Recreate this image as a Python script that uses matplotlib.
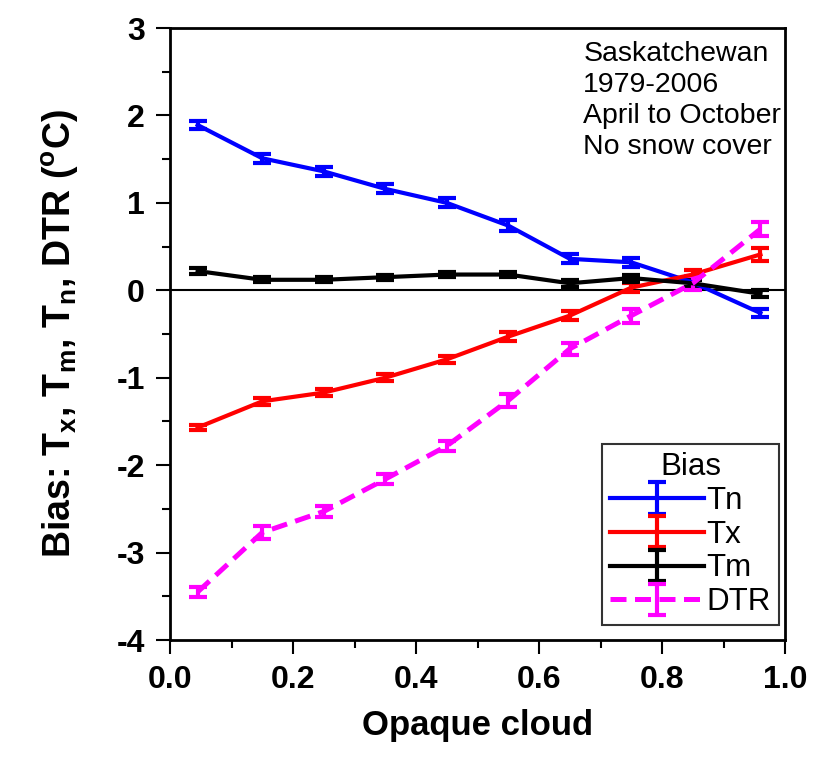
import matplotlib
matplotlib.use("Agg")
import matplotlib.pyplot as plt
from matplotlib.ticker import MultipleLocator

plt.rcParams['font.family'] = ['Liberation Sans', 'DejaVu Sans']
plt.rcParams['axes.unicode_minus'] = False
plt.rcParams['mathtext.fontset'] = 'custom'
plt.rcParams['mathtext.rm'] = 'Liberation Sans:bold'
plt.rcParams['mathtext.bf'] = 'Liberation Sans:bold'
plt.rcParams['mathtext.it'] = 'Liberation Sans:bold'

cloud = [0.045, 0.15, 0.25, 0.35, 0.45, 0.55, 0.65, 0.75, 0.85, 0.96]
tn = [1.89, 1.51, 1.36, 1.16, 1.00, 0.74, 0.36, 0.32, 0.09, -0.26]
tx = [-1.57, -1.27, -1.17, -1.00, -0.79, -0.53, -0.29, 0.03, 0.18, 0.41]
tm = [0.22, 0.12, 0.12, 0.15, 0.18, 0.18, 0.08, 0.14, 0.08, -0.04]
dtr = [-3.45, -2.77, -2.53, -2.16, -1.78, -1.26, -0.67, -0.29, 0.08, 0.70]
tn_err = [0.05, 0.05, 0.05, 0.05, 0.05, 0.06, 0.05, 0.05, 0.05, 0.05]
tx_err = [0.03, 0.04, 0.04, 0.04, 0.04, 0.05, 0.05, 0.05, 0.05, 0.07]
tm_err = [0.03, 0.03, 0.03, 0.03, 0.03, 0.03, 0.04, 0.04, 0.04, 0.04]
dtr_err = [0.06, 0.07, 0.06, 0.06, 0.06, 0.07, 0.07, 0.08, 0.08, 0.08]

fig = plt.figure(figsize=(8.13, 7.73), dpi=100)
ax = fig.add_axes([170/813, 1-640/773, 615/813, 612/773])

kw = dict(elinewidth=3, capsize=6.5, capthick=3)
ax.errorbar(cloud, tn, yerr=tn_err, color='#0000ff', label='Tn', lw=3, **kw)
ax.errorbar(cloud, tx, yerr=tx_err, color='#ff0000', label='Tx', lw=3, **kw)
ax.errorbar(cloud, tm, yerr=tm_err, color='black', label='Tm', lw=3, **kw)
eb = ax.errorbar(cloud, dtr, yerr=dtr_err, color='#ff00ff', label='DTR', ls='--', lw=3.6, **kw)
eb[-1][0].set_linestyle('-')
eb.lines[0].set_dashes([3.2, 1.7])

ax.axhline(0, color='black', lw=1.5, zorder=0)

ax.set_xlim(0, 1)
ax.set_ylim(-4, 3)
ax.xaxis.set_major_locator(MultipleLocator(0.2))
ax.xaxis.set_minor_locator(MultipleLocator(0.1))
ax.yaxis.set_major_locator(MultipleLocator(1))
ax.yaxis.set_minor_locator(MultipleLocator(0.5))
ax.xaxis.set_major_formatter(matplotlib.ticker.FormatStrFormatter('%.1f'))
ax.tick_params(which='major', direction='out', length=10, width=1.5, labelsize=23, pad=8)
ax.tick_params(which='minor', direction='out', length=6, width=1.5)
for lab in ax.get_xticklabels() + ax.get_yticklabels():
    lab.set_fontweight('bold')
for s in ax.spines.values():
    s.set_linewidth(2)

ax.set_xlabel('Opaque cloud', fontsize=25, fontweight='bold', labelpad=10)
ax.set_ylabel(r'Bias: T$_\mathrm{x}$, T$_\mathrm{m}$, T$_\mathrm{n}$, DTR ($^\mathrm{o}$C)',
              fontsize=27, fontweight='bold', labelpad=26)

ax.text(0.672, 0.978, 'Saskatchewan\n1979-2006\nApril to October\nNo snow cover',
        transform=ax.transAxes, fontsize=20.5, va='top', ha='left', linespacing=1.24)

leg = ax.legend(title='Bias', loc='lower right', fontsize=22.5, title_fontsize=22.5,
                frameon=True, fancybox=False, edgecolor='black', handlelength=3.0,
                borderaxespad=0.0, labelspacing=0.12, handletextpad=0.1,
                borderpad=0.25, bbox_to_anchor=(0.99, 0.0245))
leg.get_frame().set_linewidth(1.5)

fig.savefig('out.png', dpi=100)
